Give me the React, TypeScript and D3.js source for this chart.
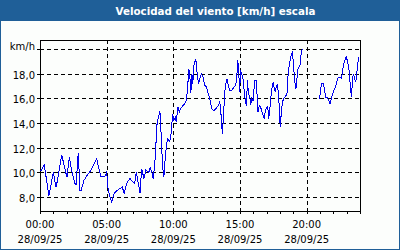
import React from "react";
import * as d3 from "d3";

const TITLE = "Velocidad del viento [km/h] escala";
const UNIT = "km/h";
const yTicks = [8, 10, 12, 14, 16, 18];
const yGrid = [8, 10, 12, 14, 16, 18, 20];
const xMajorHours = [0, 5, 10, 15, 20];
const xMajorLabels = ["00:00", "05:00", "10:00", "15:00", "20:00"];
const dateLabel = "28/09/25";

const hours = [
  0.05, 0.32, 0.67, 1.0, 1.2, 1.31, 1.63, 1.93, 2.02, 2.2, 2.4, 2.62, 2.7, 2.87, 3.0, 3.07, 3.3, 3.62, 3.82,
  4.25, 4.4, 4.55, 4.87, 5.0, 5.12, 5.37, 5.57, 5.75, 6.0, 6.17, 6.32, 6.5, 6.74, 6.94, 7.1, 7.22, 7.51, 7.62,
  7.8, 7.94, 8.16, 8.26, 8.39, 8.49, 8.6, 8.69, 8.74, 8.86, 8.99, 9.06, 9.16, 9.24, 9.29, 9.4, 9.49, 9.59, 9.7,
  9.79, 9.89, 9.94, 10.04, 10.15, 10.22, 10.34, 10.45, 10.56, 10.71, 10.86, 10.97, 11.06, 11.16, 11.24, 11.31,
  11.39, 11.46, 11.54, 11.61, 11.69, 11.76, 11.84, 11.89, 11.99, 12.11, 12.21, 12.36, 12.49, 12.58, 12.73,
  12.88, 13.03, 13.18, 13.36, 13.48, 13.56, 13.63, 13.69, 13.76, 13.86, 13.93, 14.04, 14.12, 14.23, 14.38,
  14.55, 14.68, 14.76, 14.83, 14.9, 14.98, 15.03, 15.11, 15.21, 15.26, 15.36, 15.48, 15.56, 15.63, 15.73,
  15.81, 15.88, 15.98, 16.1, 16.23, 16.28, 16.35, 16.44, 16.55, 16.63, 16.73, 16.82, 16.91, 16.98, 17.08,
  17.15, 17.23, 17.3, 17.42, 17.48, 17.55, 17.66, 17.73, 17.81, 17.9, 17.98, 18.01, 18.09, 18.18, 18.28,
  18.37, 18.5, 18.55, 18.61, 18.69, 18.78, 18.85, 18.93, 19.0, 19.1, 19.2, 19.27, 19.35, 19.42, 19.51, 19.6,
  19.68, 20.3, 20.97, 21.05, 21.15, 21.25, 21.35, 21.42, 21.55, 21.65, 21.76, 21.85, 21.95, 22.04, 22.15,
  22.25, 22.36, 22.47, 22.62, 22.75, 22.85, 22.97, 23.07, 23.17, 23.24, 23.3, 23.37, 23.43, 23.5, 23.6, 23.67,
  23.75, 23.82, 23.92,
];

const speeds: (number | null)[] = [
  10.1, 10.6, 8.1, 10.0, 8.8, 9.35, 11.4, 10.0, 9.6, 11.25, 10.0, 9.1, 8.95, 11.6, 8.5, 8.5, 9.35, 9.9, 10.15,
  11.1, 10.4, 9.7, 9.7, 10.0, 8.5, 7.6, 8.3, 8.5, 8.7, 8.8, 8.3, 9.1, 9.5, 9.27, 9.1, 10.0, 8.3, 10.3,
  9.5, 10.2, 10.0, 10.4, 10.0, 9.5, 10.6, 12.05, 13.67, 14.35, 15.0, 13.67, 11.24, 10.0, 9.6, 11.24, 12.3, 12.7, 12.5,
  12.7, 13.9, 14.75, 14.2, 14.45, 14.07, 15.3, 14.9, 15.2, 15.4, 15.56, 15.8, 16.64, 18.4, 17.8, 16.4,
  18.0, 17.2, 18.66, 18.93, 19.2, 18.26, 17.6, 17.2, 17.6, 18.0, 17.8, 17.05, 16.9, 16.5, 15.97,
  15.14, 15.0, 15.16, 15.4, 15.7, 15.0, 13.67, 13.13, 14.6, 16.5, 17.2, 17.6, 17.04, 16.64, 16.64,
  16.9, 17.04, 17.7, 19.07, 18.26, 16.5, 18.26, 18.0, 17.7, 17.2, 16.1, 15.4, 17.45, 16.37, 16.1,
  15.5, 16.0, 15.83, 17.45, 17.45, 16.23, 14.88, 15.4, 15.26, 15.0, 14.6, 14.35, 15.1, 15.16, 15.4,
  14.35, 15.0, 16.0, 16.96, 17.3, 16.9, 16.5, 17.04, 17.1, 16.1, 14.75, 13.67, 14.7, 15.67, 16.0,
  16.1, 16.3, 16.5, 18.0, 18.66, 19.2, 19.6, 19.74, 18.9, 17.45, 16.78, 17.6, 18.4, 18.5, 18.75, 19.74,
  20.0, null, 15.97, 16.8, 17.2, 17.2, 16.64, 16.1, 16.1, 15.83, 15.56, 16.0, 16.37, 16.64, 16.9,
  17.3, 17.7, 17.7, 17.64, 18.66, 19.07, 19.35, 19.0, 18.4, 17.45, 16.64, 16.1, 17.45, 18.0, 17.6, 17.3,
  17.85, 18.8, 19.34,
];

const W = 400;
const H = 250;
const PL = 40;
const PR = 360;
const PT = 40;
const PB = 211;
const FONT = "'DejaVu Sans', Verdana, sans-serif";
const BLUE = "#1f5f98";

const fmt = (v: number) => v.toFixed(1).replace(".", ",");

export default function App() {
  const x = d3.scaleLinear().domain([0, 24]).range([PL, PR]);
  const y = d3.scaleLinear().domain([8, 20]).range([197, 49]);
  const points = hours.map((h, i) => [h, speeds[i]] as [number, number | null]);
  const line = d3
    .line<[number, number | null]>()
    .defined((d) => d[1] !== null)
    .x((d) => x(d[0]))
    .y((d) => y(d[1] as number));
  const hourTicks = d3.range(0, 25);
  const px = (v: number) => Math.round(v) + 0.5;

  return (
    <svg width={W} height={H} style={{ position: "fixed", left: 0, top: 0 }} fontFamily={FONT}>
      <rect x={0.5} y={0.5} width={W - 1} height={H - 1} fill="#fcfefc" stroke={BLUE} strokeWidth={1} />
      <rect x={0} y={0} width={W} height={21} fill={BLUE} />
      <text x={215.5} y={14.5} textAnchor="middle" fill="#ffffff" fontWeight="bold" fontSize={10.3}>
        {TITLE}
      </text>
      <g shapeRendering="crispEdges">
        {yGrid.map((v) => (
          <line key={"gy" + v} x1={PL} x2={PR} y1={px(y(v))} y2={px(y(v))} stroke="#000" strokeDasharray="4,3" />
        ))}
        {xMajorHours.slice(1).map((h) => (
          <line key={"gx" + h} x1={px(x(h))} x2={px(x(h))} y1={PT} y2={PB} stroke="#000" strokeDasharray="4,3" />
        ))}
        {yGrid.map((v) => (
          <line key={"ty" + v} x1={PL - 3} x2={PL} y1={px(y(v))} y2={px(y(v))} stroke="#000" />
        ))}
        {hourTicks.map((h) => (
          <line key={"tx" + h} x1={px(x(h))} x2={px(x(h))} y1={PB} y2={PB + 3} stroke="#000" />
        ))}
        <rect x={PL + 0.5} y={PT + 0.5} width={PR - PL} height={PB - PT} fill="none" stroke="#000" />
        <path d={line(points) || ""} fill="none" stroke="#0000ee" strokeWidth={1} />
      </g>
      {yTicks.map((v) => (
        <text key={"ly" + v} x={35} y={y(v) + 5} textAnchor="end" fontSize={10} fill="#000">
          {fmt(v)}
        </text>
      ))}
      <text x={35} y={y(20) + 1} textAnchor="end" fontSize={10} fill="#000">
        {UNIT}
      </text>
      {xMajorHours.map((h, i) => (
        <g key={"lx" + h}>
          <text x={x(h)} y={228} textAnchor="middle" fontSize={10} fill="#000">
            {xMajorLabels[i]}
          </text>
          <text x={x(h)} y={243} textAnchor="middle" fontSize={10} fill="#000">
            {dateLabel}
          </text>
        </g>
      ))}
    </svg>
  );
}
